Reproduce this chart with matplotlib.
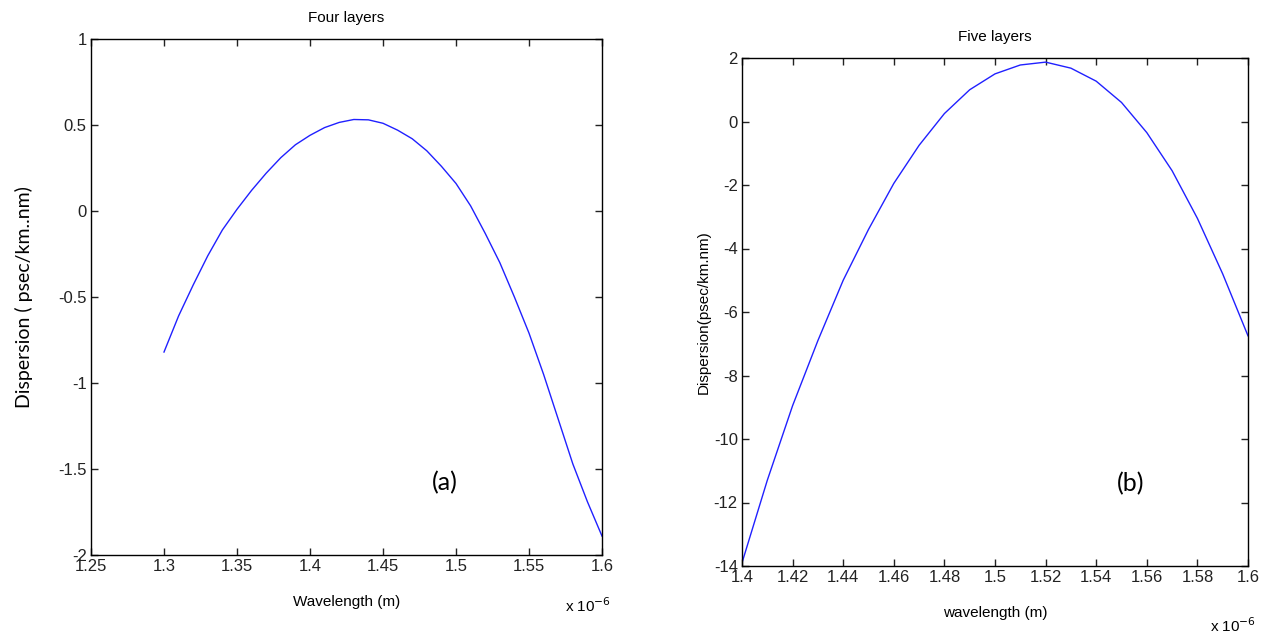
import numpy as np
import matplotlib
matplotlib.use("Agg")
import matplotlib.pyplot as plt
from matplotlib.ticker import FormatStrFormatter

# wavelength in units of 1e-6 m, dispersion in psec/(km.nm)
wl_four = [1.30, 1.31, 1.32, 1.33, 1.34, 1.35, 1.36, 1.37, 1.38, 1.39, 1.40,
           1.41, 1.42, 1.43, 1.44, 1.45, 1.46, 1.47, 1.48, 1.49, 1.50,
           1.51, 1.52, 1.53, 1.54, 1.55, 1.56, 1.57, 1.58, 1.59, 1.60]
disp_four = [-0.82, -0.61, -0.43, -0.26, -0.11, 0.01, 0.12, 0.22, 0.31, 0.385, 0.44,
             0.485, 0.515, 0.532, 0.53, 0.51, 0.47, 0.42, 0.35, 0.26, 0.16,
             0.03, -0.13, -0.30, -0.50, -0.71, -0.95, -1.21, -1.47, -1.69, -1.89]

wl_five = [1.40, 1.41, 1.42, 1.43, 1.44, 1.45, 1.46, 1.47, 1.48, 1.49, 1.50,
           1.51, 1.52, 1.53, 1.54, 1.55, 1.56, 1.57, 1.58, 1.59, 1.60]
disp_five = [-13.9, -11.3, -8.95, -6.9, -5.0, -3.4, -1.95, -0.75, 0.25, 1.0, 1.5,
             1.78, 1.87, 1.68, 1.27, 0.6, -0.35, -1.55, -3.05, -4.8, -6.75]

xticks_four = [1.25, 1.3, 1.35, 1.4, 1.45, 1.5, 1.55, 1.6]
yticks_four = [-2, -1.5, -1, -0.5, 0, 0.5, 1]
xticks_five = [1.4, 1.42, 1.44, 1.46, 1.48, 1.5, 1.52, 1.54, 1.56, 1.58, 1.6]
yticks_five = [-14, -12, -10, -8, -6, -4, -2, 0, 2]

plt.rcParams["font.family"] = ["Liberation Sans", "DejaVu Sans"]

fig = plt.figure(figsize=(12.65, 6.39), dpi=100)
ax1 = fig.add_axes([91 / 1265, 1 - 555 / 639, 511 / 1265, 516 / 639])
ax2 = fig.add_axes([742 / 1265, 1 - 566 / 639, 506 / 1265, 508 / 639])


def style(ax):
    ax.tick_params(direction="in", length=5, width=1, top=True, right=True,
                   labelsize=12, pad=3, colors="#222222")
    for s in ax.spines.values():
        s.set_linewidth(1)
    ax.xaxis.set_major_formatter(FormatStrFormatter("%g"))
    ax.yaxis.set_major_formatter(FormatStrFormatter("%g"))


ax1.plot(wl_four, disp_four, color="#2020ff", lw=1)
ax1.set_xlim(1.25, 1.6)
ax1.set_ylim(-2, 1)
ax1.set_xticks(xticks_four)
ax1.set_yticks(yticks_four)
style(ax1)
ax1.set_title("Four layers", fontsize=11, pad=12)
ax1.set_xlabel("Wavelength (m)", fontsize=11, labelpad=15)
ax1.set_ylabel("Dispersion ( psec/km..nm)", fontsize=14, family="Lato", labelpad=18)
ax1.text(0.928, -0.099, "x 10$^{-6}$", transform=ax1.transAxes, fontsize=11, va="center")
ax1.text(0.667, 0.141, "(a)", transform=ax1.transAxes, fontsize=18, family="Lato",
         va="center")

ax2.plot(wl_five, disp_five, color="#2020ff", lw=1)
ax2.set_xlim(1.4, 1.6)
ax2.set_ylim(-14, 2)
ax2.set_xticks(xticks_five)
ax2.set_yticks(yticks_five)
style(ax2)
ax2.set_title("Five layers", fontsize=11, pad=12)
ax2.set_xlabel("wavelength (m)", fontsize=11, labelpad=15)
ax2.set_ylabel("Dispersion(psec/km.nm)", fontsize=11, labelpad=2)
ax2.text(0.925, -0.118, "x 10$^{-6}$", transform=ax2.transAxes, fontsize=11, va="center")
ax2.text(0.741, 0.163, "(b)", transform=ax2.transAxes, fontsize=18, family="Lato",
         va="center")

fig.savefig("out.png", dpi=100)
